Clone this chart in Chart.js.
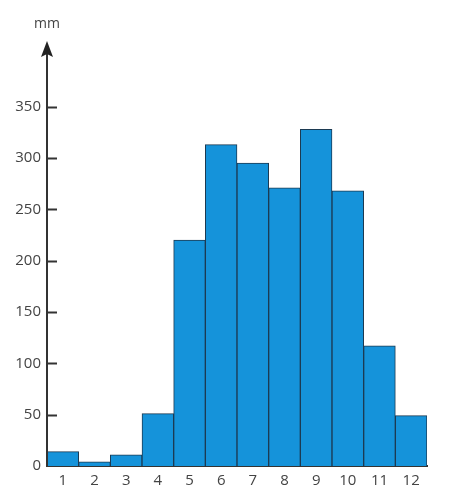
<!DOCTYPE html>
<html><head><meta charset="utf-8">
<script src="https://cdn.jsdelivr.net/npm/chart.js@4"></script>
<style>html,body{margin:0;padding:0;background:#fff}#wrap{width:450px;height:496px}</style>
</head><body><div id="wrap"><canvas id="c" width="450" height="496"></canvas></div>
<script>
const months = ['1','2','3','4','5','6','7','8','9','10','11','12'];
const rainfall = [14, 4, 11, 51, 220, 313, 295, 271, 328, 268, 117, 49];
const yTicks = [0, 50, 100, 150, 200, 250, 300, 350];
const unitLabel = 'mm';

const axisPlugin = {
  id: 'axisDeco',
  afterDraw(chart) {
    const ctx = chart.ctx, a = chart.chartArea, y = chart.scales.y;
    ctx.save();
    ctx.strokeStyle = '#333'; ctx.lineWidth = 2;
    yTicks.forEach(v => {
      if (v === 0) return;
      const py = Math.round(y.getPixelForValue(v)) + 0.5;
      ctx.beginPath(); ctx.moveTo(a.left, py); ctx.lineTo(a.left + 10, py); ctx.stroke();
    });
    ctx.beginPath(); ctx.moveTo(a.left, a.bottom); ctx.lineTo(a.left, a.top + 6); ctx.stroke();
    ctx.fillStyle = '#222';
    ctx.beginPath();
    ctx.moveTo(a.left, a.top);
    ctx.lineTo(a.left + 6, a.top + 16);
    ctx.lineTo(a.left, a.top + 13);
    ctx.lineTo(a.left - 6, a.top + 16);
    ctx.closePath(); ctx.fill();
    ctx.fillStyle = '#444';
    ctx.font = '14px "Open Sans", sans-serif';
    ctx.textAlign = 'center'; ctx.textBaseline = 'middle';
    ctx.fillText(unitLabel, a.left, 24);
    ctx.restore();
  }
};

new Chart(document.getElementById('c'), {
  type: 'bar',
  data: {
    labels: months,
    datasets: [{
      data: rainfall,
      backgroundColor: '#1593da',
      borderColor: '#1c3a52',
      borderWidth: 1,
      categoryPercentage: 1,
      barPercentage: 1
    }]
  },
  options: {
    responsive: false,
    animation: false,
    devicePixelRatio: 1,
    layout: { padding: { top: 41, right: 23, left: 0, bottom: 0 } },
    plugins: { legend: { display: false }, tooltip: { enabled: false } },
    scales: {
      x: {
        grid: { display: false, drawTicks: false },
        border: { display: true, color: '#333', width: 2 },
        ticks: { color: '#444', font: { family: '"Open Sans", sans-serif', size: 15 }, padding: 6 },
        afterFit(s) { s.height = 30; }
      },
      y: {
        min: 0, max: 414,
        grid: { display: false, drawTicks: false },
        border: { display: false },
        afterBuildTicks(s) { s.ticks = yTicks.map(v => ({ value: v })); },
        ticks: { color: '#444', font: { family: '"Open Sans", sans-serif', size: 15 }, padding: 6 },
        afterFit(s) { s.width = 47; }
      }
    }
  },
  plugins: [axisPlugin]
});
</script></body></html>
